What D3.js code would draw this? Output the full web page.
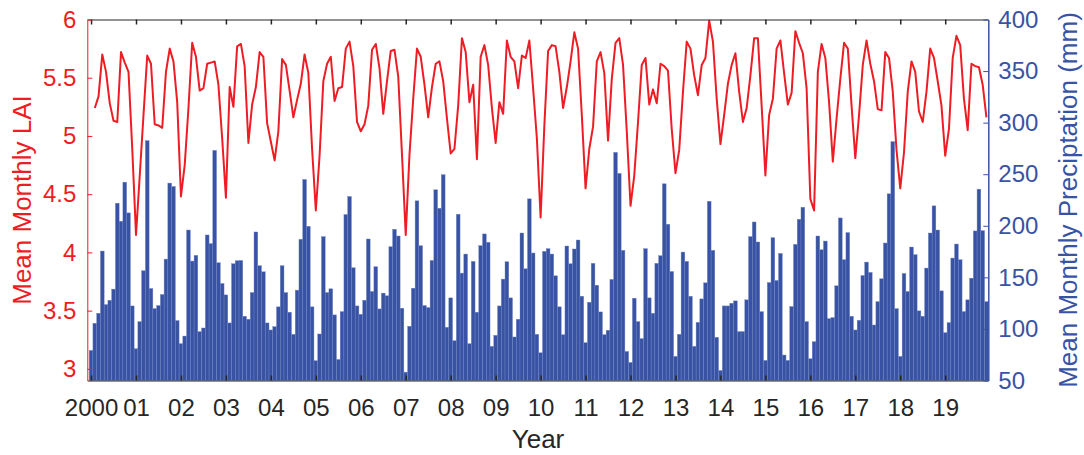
<!DOCTYPE html>
<html>
<head>
<meta charset="utf-8">
<script src="https://cdn.jsdelivr.net/npm/d3@7"></script>
<style>
  body { margin: 0; background: #fff; }
  text { font-family: "Liberation Sans", Arial, Helvetica, sans-serif; }
</style>
</head>
<body>
<div id="my_dataviz"></div>
<script>
// monthly precipitation (mm), Jan 2000 .. Dec 2019
var precip = [
  79.2, 105.5, 115.2, 175.5, 123.6, 127.8, 138.6, 221.9, 204.4, 242.3, 212.5, 122.3,
  80.8, 107.1, 156.4, 282.5, 139.2, 119.7, 122.7, 133.4, 167.7, 241.4, 238.1, 108.1,
  85.7, 93.1, 195.9, 165.8, 171.3, 97.4, 100.9, 191.1, 182.7, 273.1, 164.2, 144.1,
  133.0, 105.8, 163.2, 166.1, 166.4, 112.3, 109.4, 135.3, 194.0, 161.3, 155.4, 105.8,
  99.0, 102.2, 121.4, 161.3, 135.3, 116.2, 94.8, 137.6, 186.9, 244.9, 199.5, 121.4,
  69.2, 95.1, 189.5, 135.3, 138.9, 113.6, 70.4, 116.8, 210.9, 228.4, 159.3, 122.3,
  114.2, 127.8, 187.2, 136.3, 160.3, 119.4, 134.7, 132.1, 179.7, 196.6, 190.1, 120.1,
  58.1, 102.6, 139.5, 224.2, 180.7, 122.7, 120.7, 166.4, 234.9, 217.0, 249.5, 101.6,
  130.1, 88.6, 211.2, 154.1, 172.6, 85.7, 165.5, 116.2, 180.7, 192.1, 184.0, 83.1,
  93.8, 122.3, 148.3, 165.1, 130.1, 92.2, 109.4, 193.0, 158.3, 226.1, 173.6, 94.8,
  76.9, 175.2, 177.8, 172.6, 151.5, 121.4, 94.4, 180.4, 163.2, 177.5, 186.2, 131.7,
  86.7, 125.9, 163.6, 142.4, 116.5, 94.4, 98.7, 148.0, 271.2, 250.8, 176.2, 78.2,
  67.5, 129.8, 107.1, 90.6, 177.8, 130.1, 115.2, 163.6, 171.0, 240.7, 201.5, 155.7,
  73.4, 94.8, 174.5, 165.5, 131.7, 83.1, 106.4, 129.1, 144.7, 223.8, 176.2, 91.9,
  59.7, 122.3, 122.3, 124.9, 127.2, 97.4, 97.4, 128.2, 189.5, 203.7, 184.3, 116.8,
  69.5, 145.0, 188.5, 147.0, 173.2, 74.7, 69.5, 121.7, 182.0, 206.3, 218.0, 107.1,
  71.1, 87.6, 190.1, 176.8, 185.2, 110.0, 111.0, 141.8, 207.6, 167.1, 193.4, 112.3,
  99.0, 108.4, 151.8, 164.8, 154.8, 103.8, 126.5, 148.6, 183.3, 231.0, 281.6, 119.7,
  73.4, 153.8, 136.3, 179.4, 172.0, 117.5, 112.3, 159.0, 193.0, 219.3, 195.9, 136.9,
  96.4, 106.1, 168.7, 182.3, 167.1, 116.8, 128.2, 149.2, 195.0, 235.5, 195.3, 126.5
];

// monthly LAI (first month missing)
var lai = [
  null, 5.24, 5.34, 5.70, 5.55, 5.28, 5.13, 5.12, 5.72, 5.63, 5.55, 4.89,
  4.15, 4.66, 5.18, 5.69, 5.62, 5.10, 5.09, 5.07, 5.55, 5.75, 5.64, 5.29,
  4.48, 4.75, 5.24, 5.80, 5.68, 5.39, 5.41, 5.62, 5.63, 5.64, 5.44, 4.98,
  4.47, 5.42, 5.25, 5.77, 5.79, 5.60, 4.94, 5.27, 5.42, 5.72, 5.68, 5.11,
  4.95, 4.79, 5.04, 5.66, 5.61, 5.39, 5.16, 5.31, 5.45, 5.70, 5.54, 4.89,
  4.36, 4.83, 5.47, 5.62, 5.68, 5.30, 5.41, 5.42, 5.75, 5.81, 5.60, 5.12,
  5.04, 5.10, 5.26, 5.74, 5.79, 5.58, 5.19, 5.47, 5.73, 5.74, 5.51, 4.84,
  4.15, 4.84, 5.32, 5.75, 5.68, 5.44, 5.16, 5.42, 5.62, 5.64, 5.47, 5.15,
  4.85, 4.89, 5.26, 5.84, 5.72, 5.29, 5.44, 4.80, 5.68, 5.78, 5.61, 5.24,
  4.94, 5.29, 5.19, 5.82, 5.68, 5.64, 5.41, 5.69, 5.67, 5.82, 5.41, 4.98,
  4.30, 5.09, 5.73, 5.78, 5.77, 5.55, 5.24, 5.42, 5.64, 5.89, 5.75, 5.18,
  4.55, 4.89, 5.08, 5.64, 5.72, 5.54, 4.96, 5.49, 5.80, 5.84, 5.61, 5.04,
  4.40, 4.66, 5.12, 5.61, 5.67, 5.27, 5.40, 5.28, 5.62, 5.60, 5.56, 5.06,
  4.68, 4.88, 5.38, 5.81, 5.75, 5.52, 5.35, 5.61, 5.67, 5.99, 5.81, 5.32,
  4.93, 5.18, 5.45, 5.61, 5.71, 5.38, 5.12, 5.24, 5.52, 5.84, 5.84, 5.26,
  4.66, 5.18, 5.32, 5.75, 5.82, 5.54, 5.27, 5.37, 5.90, 5.80, 5.71, 5.41,
  4.46, 4.36, 5.55, 5.79, 5.67, 5.29, 4.78, 5.15, 5.49, 5.80, 5.75, 5.26,
  4.81, 5.18, 5.61, 5.82, 5.62, 5.47, 5.23, 5.22, 5.72, 5.67, 5.38, 4.88,
  4.55, 4.86, 5.38, 5.64, 5.55, 5.21, 5.12, 5.38, 5.75, 5.67, 5.47, 5.26,
  4.83, 5.06, 5.67, 5.86, 5.78, 5.32, 5.05, 5.62, 5.60, 5.59, 5.44, 5.16
];

var yearLabels = ["2000", "01", "02", "03", "04", "05", "06", "07", "08", "09",
                  "10", "11", "12", "13", "14", "15", "16", "17", "18", "19"];
var laiTicks = [3, 3.5, 4, 4.5, 5, 5.5, 6];
var precipTicks = [50, 100, 150, 200, 250, 300, 350, 400];

var red = "#ee1c24", blue = "#3953a4", dark = "#262626";

var margin = {top: 19.5, right: 95.7, bottom: 74.5, left: 87.3},
    width = 1084 - margin.left - margin.right,
    height = 455 - margin.top - margin.bottom;

var svg = d3.select("#my_dataviz")
  .append("svg")
    .attr("width", width + margin.left + margin.right)
    .attr("height", height + margin.top + margin.bottom)
  .append("g")
    .attr("transform", "translate(" + margin.left + "," + margin.top + ")");

// month index 1..240
var x = d3.scaleLinear().domain([0, 240.5]).range([0, width]);
var yL = d3.scaleLinear().domain([2.9, 6]).range([height, 0]);
var yR = d3.scaleLinear().domain([50, 400]).range([height, 0]);
var bw = x(1) - x(0);

// bars
svg.selectAll("myBars")
  .data(precip)
  .enter()
  .append("rect")
    .attr("x", function(d, i) { return x(i + 1) - bw / 2; })
    .attr("width", bw)
    .attr("y", function(d) { return yR(d); })
    .attr("height", function(d) { return yR(50) - yR(d); })
    .attr("fill", blue)
    .attr("stroke", "#7086c4")
    .attr("stroke-width", 0.4);

// LAI line
var line = d3.line()
  .defined(function(d) { return d != null; })
  .x(function(d, i) { return x(i + 1); })
  .y(function(d) { return yL(d); });
svg.append("path")
  .datum(lai)
  .attr("d", line)
  .attr("fill", "none")
  .attr("stroke", red)
  .attr("stroke-width", 2)
  .attr("stroke-linejoin", "round");

var yearTicks = yearLabels.map(function(d, i) { return 1 + 12 * i; });

// top axis (ticks only)
svg.append("g")
  .call(d3.axisTop(x).tickValues(yearTicks).tickSize(-5).tickSizeOuter(0).tickFormat(""))
  .call(function(g) {
    g.select(".domain").attr("stroke", dark);
    g.selectAll(".tick line").attr("stroke", dark).attr("stroke-width", 1.5);
  });

// bottom axis
svg.append("g")
  .attr("transform", "translate(0," + height + ")")
  .call(d3.axisBottom(x).tickValues(yearTicks).tickSize(-5).tickSizeOuter(0).tickPadding(18)
    .tickFormat(function(d, i) { return yearLabels[i]; }))
  .call(function(g) {
    g.select(".domain").attr("stroke", dark);
    g.selectAll(".tick line").attr("stroke", dark).attr("stroke-width", 1.5);
    g.selectAll("text").attr("fill", dark).style("font-size", "24px");
  });

// left axis
svg.append("g")
  .call(d3.axisLeft(yL).tickValues(laiTicks).tickSize(-5).tickSizeOuter(0).tickPadding(11)
    .tickFormat(d3.format("")))
  .call(function(g) {
    g.select(".domain").attr("stroke", red).attr("stroke-width", 1);
    g.selectAll(".tick line").attr("stroke", red);
    g.selectAll("text").attr("fill", red).style("font-size", "24px");
  });

// right axis
svg.append("g")
  .attr("transform", "translate(" + width + ",0)")
  .call(d3.axisRight(yR).tickValues(precipTicks).tickSize(-5).tickSizeOuter(0).tickPadding(10))
  .call(function(g) {
    g.select(".domain").attr("stroke", blue).attr("stroke-width", 1.5);
    g.selectAll(".tick line").attr("stroke", blue);
    g.selectAll("text").attr("fill", blue).style("font-size", "24px");
  });

// axis titles
svg.append("text")
  .attr("transform", "translate(" + (31 - margin.left) + "," + (height / 2) + ") rotate(-90)")
  .attr("text-anchor", "middle")
  .attr("fill", red)
  .style("font-size", "26px")
  .text("Mean Monthly LAI");

svg.append("text")
  .attr("transform", "translate(" + (1077 - margin.left) + "," + (height / 2) + ") rotate(-90)")
  .attr("text-anchor", "middle")
  .attr("fill", blue)
  .style("font-size", "26px")
  .text("Mean Monthly Preciptation (mm)");

svg.append("text")
  .attr("x", 538 - margin.left)
  .attr("y", 448 - margin.top)
  .attr("text-anchor", "middle")
  .attr("fill", dark)
  .style("font-size", "26px")
  .text("Year");
</script>
</body>
</html>
